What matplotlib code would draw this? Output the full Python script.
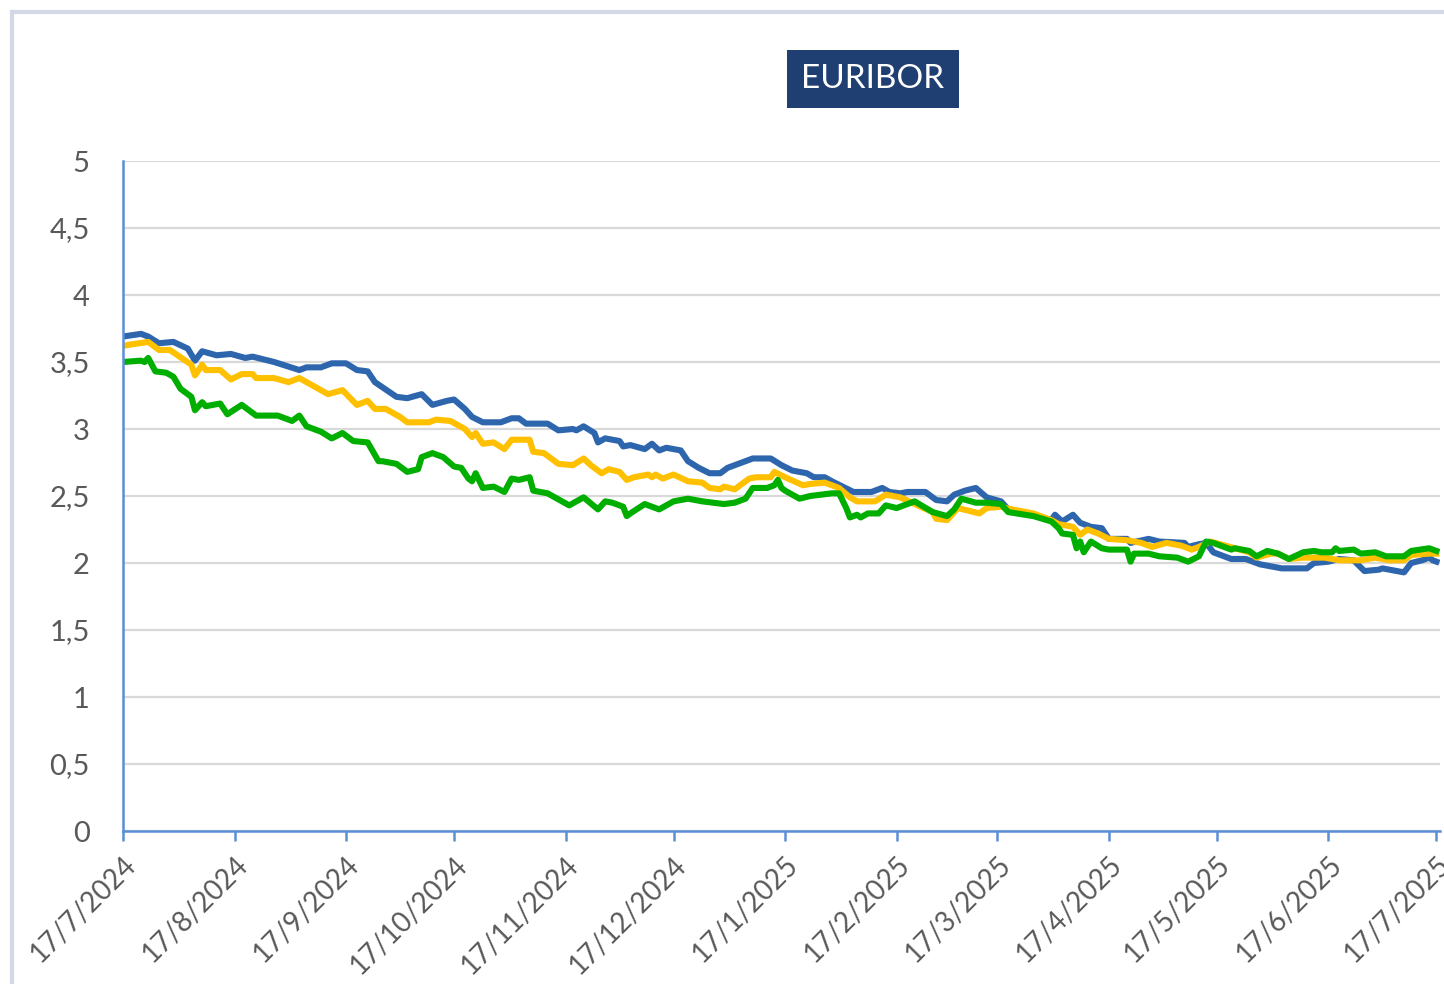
import numpy as np
import pandas as pd
import matplotlib
matplotlib.use("Agg")
from matplotlib import pyplot as plt
import matplotlib.dates as mdates
from matplotlib.lines import Line2D

plt.rcParams['font.family'] = ['Lato', 'DejaVu Sans']

start = pd.Timestamp("2024-07-17")

# dias desde 17/7/2024 y valores
blue_d = [0, 5, 7, 10, 14, 18, 20, 22, 26, 30, 34, 36, 42, 49, 51, 55, 58, 62, 65, 68, 70, 76, 79, 83, 86, 90, 92, 95,
          97, 100, 105, 108, 110, 112, 118, 121, 125, 126, 128, 131, 132, 134, 138, 139, 141, 145, 147, 149, 151, 155,
          157, 160, 163, 166, 168, 170, 173, 175, 180, 183, 186, 190, 192, 195, 197, 203, 208, 211, 213, 216, 218, 223,
          226, 229, 231, 234, 237, 240, 244, 246, 253, 258, 259, 261, 264, 266, 269, 272, 274, 279, 280, 285, 288, 295,
          296, 299, 301, 303, 308, 312, 316, 322, 329, 331, 335, 338, 342, 345, 349, 350, 352, 356, 358, 361, 363, 364, 365]
blue_v = [3.69, 3.71, 3.69, 3.64, 3.65, 3.60, 3.51, 3.58, 3.55, 3.56, 3.53, 3.54, 3.50, 3.44, 3.46, 3.46, 3.49, 3.49,
          3.44, 3.43, 3.35, 3.24, 3.23, 3.26, 3.18, 3.21, 3.22, 3.15, 3.09, 3.05, 3.05, 3.08, 3.08, 3.04, 3.04, 2.99,
          3.00, 2.99, 3.02, 2.97, 2.90, 2.93, 2.91, 2.87, 2.88, 2.85, 2.89, 2.84, 2.86, 2.84, 2.76, 2.71, 2.67, 2.67,
          2.71, 2.73, 2.76, 2.78, 2.78, 2.73, 2.69, 2.67, 2.64, 2.64, 2.61, 2.53, 2.53, 2.56, 2.53, 2.52, 2.53, 2.53,
          2.47, 2.46, 2.51, 2.54, 2.56, 2.49, 2.46, 2.40, 2.36, 2.32, 2.36, 2.31, 2.36, 2.30, 2.27, 2.26, 2.18, 2.18,
          2.15, 2.18, 2.16, 2.15, 2.12, 2.14, 2.15, 2.08, 2.03, 2.03, 1.99, 1.96, 1.96, 2.00, 2.01, 2.03, 2.02, 1.94,
          1.95, 1.96, 1.95, 1.93, 2.00, 2.02, 2.04, 2.02, 2.01]

yellow_d = [0, 2, 7, 10, 13, 19, 20, 22, 23, 27, 30, 33, 36, 37, 42, 46, 49, 53, 57, 61, 65, 68, 70, 73, 77, 79, 85, 87,
            91, 95, 97, 98, 100, 103, 106, 108, 113, 114, 117, 119, 121, 125, 128, 130, 133, 135, 138, 140, 142, 146,
            147, 148, 150, 153, 157, 161, 163, 166, 167, 170, 171, 174, 176, 180, 181, 184, 189, 191, 195, 199, 202,
            204, 209, 212, 216, 220, 225, 226, 229, 232, 238, 240, 244, 247, 253, 258, 260, 264, 266, 268, 271, 274,
            279, 283, 286, 290, 294, 297, 299, 302, 305, 309, 313, 315, 319, 321, 324, 328, 334, 338, 344, 348, 352,
            356, 358, 363, 365]
yellow_v = [3.62, 3.63, 3.65, 3.59, 3.59, 3.48, 3.40, 3.48, 3.44, 3.44, 3.37, 3.41, 3.41, 3.38, 3.38, 3.35, 3.38, 3.32,
            3.26, 3.29, 3.18, 3.21, 3.15, 3.15, 3.09, 3.05, 3.05, 3.07, 3.06, 3.00, 2.94, 2.97, 2.89, 2.90, 2.85, 2.92,
            2.92, 2.83, 2.82, 2.78, 2.74, 2.73, 2.78, 2.73, 2.67, 2.70, 2.68, 2.62, 2.64, 2.66, 2.64, 2.66, 2.63, 2.66,
            2.61, 2.60, 2.56, 2.55, 2.57, 2.55, 2.57, 2.63, 2.64, 2.64, 2.68, 2.64, 2.58, 2.59, 2.60, 2.56, 2.49, 2.46,
            2.46, 2.51, 2.49, 2.44, 2.38, 2.33, 2.32, 2.41, 2.37, 2.41, 2.42, 2.40, 2.37, 2.32, 2.29, 2.27, 2.21, 2.25,
            2.22, 2.18, 2.17, 2.15, 2.12, 2.15, 2.13, 2.10, 2.12, 2.16, 2.14, 2.11, 2.08, 2.04, 2.07, 2.07, 2.03, 2.04,
            2.04, 2.02, 2.02, 2.04, 2.02, 2.02, 2.06, 2.07, 2.07]

green_d = [0, 5, 6, 7, 9, 12, 14, 16, 19, 20, 22, 23, 27, 29, 33, 37, 41, 43, 47, 49, 51, 55, 58, 61, 64, 68, 71, 72, 76,
           79, 82, 83, 86, 89, 92, 94, 96, 97, 98, 100, 103, 106, 108, 110, 113, 114, 118, 120, 124, 128, 132, 134,
           136, 139, 140, 141, 145, 149, 153, 157, 161, 167, 170, 173, 175, 179, 181, 182, 183, 184, 188, 191, 194,
           197, 199, 201, 202, 204, 205, 207, 210, 212, 215, 218, 220, 225, 229, 231, 233, 237, 240, 244, 246, 253,
           258, 260, 261, 264, 265, 266, 267, 269, 272, 274, 279, 280, 281, 285, 288, 293, 296, 299, 301, 303, 308,
           309, 313, 315, 318, 321, 324, 328, 331, 333, 336, 337, 338, 342, 344, 348, 351, 356, 358, 363, 365]
green_v = [3.50, 3.51, 3.50, 3.53, 3.43, 3.42, 3.39, 3.30, 3.24, 3.14, 3.20, 3.17, 3.19, 3.11, 3.18, 3.10, 3.10, 3.10,
           3.06, 3.10, 3.02, 2.98, 2.93, 2.97, 2.91, 2.90, 2.76, 2.76, 2.74, 2.68, 2.70, 2.79, 2.82, 2.79, 2.72, 2.71,
           2.63, 2.61, 2.67, 2.56, 2.57, 2.53, 2.63, 2.62, 2.64, 2.54, 2.52, 2.49, 2.43, 2.49, 2.40, 2.46, 2.45, 2.42,
           2.35, 2.37, 2.44, 2.40, 2.46, 2.48, 2.46, 2.44, 2.45, 2.48, 2.56, 2.56, 2.58, 2.62, 2.56, 2.54, 2.48, 2.50,
           2.51, 2.52, 2.52, 2.41, 2.34, 2.36, 2.34, 2.37, 2.37, 2.43, 2.41, 2.44, 2.46, 2.38, 2.35, 2.40, 2.48, 2.45,
           2.45, 2.44, 2.38, 2.35, 2.31, 2.26, 2.22, 2.21, 2.11, 2.16, 2.08, 2.16, 2.11, 2.10, 2.10, 2.01, 2.07, 2.07,
           2.05, 2.04, 2.01, 2.05, 2.16, 2.15, 2.10, 2.11, 2.09, 2.05, 2.09, 2.07, 2.03, 2.08, 2.09, 2.08, 2.08, 2.11,
           2.09, 2.10, 2.07, 2.08, 2.05, 2.05, 2.09, 2.11, 2.09]

yticks = [0, 0.5, 1, 1.5, 2, 2.5, 3, 3.5, 4, 4.5, 5]
ytick_labels = ["0", "0,5", "1", "1,5", "2", "2,5", "3", "3,5", "4", "4,5", "5"]
month_ticks = pd.date_range("2024-07-01", "2025-07-17", freq="MS") + pd.Timedelta(days=16)
xtick_labels = [f"{d.day}/{d.month}/{d.year}" for d in month_ticks]

def to_dates(days):
    return start + pd.to_timedelta(days, unit="D")

fig = plt.figure(figsize=(14.44, 9.84), dpi=100)
ax = fig.add_axes([123/1444, 1-831/984, (1440-123)/1444, (831-161)/984])

ax.plot(to_dates(blue_d), blue_v, color="#2E66AE", lw=4.4, solid_joinstyle="round")
ax.plot(to_dates(yellow_d), yellow_v, color="#FFC000", lw=4.4, solid_joinstyle="round")
ax.plot(to_dates(green_d), green_v, color="#00AE00", lw=4.4, solid_joinstyle="round")

ax.set_ylim(0, 5)
ax.set_xlim(start, start + pd.Timedelta(days=366))
ax.set_yticks(yticks)
ax.set_yticklabels(ytick_labels)
ax.set_xticks(month_ticks)
ax.set_xticklabels(xtick_labels, rotation=45, ha="right", rotation_mode="anchor")
ax.grid(axis="y", color="#D9D9D9", lw=1.6)
ax.set_axisbelow(True)
for s in ["top", "right"]:
    ax.spines[s].set_visible(False)
for s in ["left", "bottom"]:
    ax.spines[s].set_color("#5B8FD6")
    ax.spines[s].set_linewidth(1.8)
ax.tick_params(axis="y", length=0, pad=24, labelsize=21, labelcolor="#595959")
ax.tick_params(axis="x", length=7, width=1.8, color="#5B8FD6", pad=8, labelsize=20, labelcolor="#595959")

fig.text(873/1444, 1-79/984, "EURIBOR", ha="center", va="center", color="white", fontsize=24,
         bbox=dict(boxstyle="square,pad=0.42", fc="#1F3F73", ec="none"))

# marco
fig.add_artist(Line2D([12/1444, 12/1444], [0, 1-12/984], color="#D3D7E6", lw=3, transform=fig.transFigure))
fig.add_artist(Line2D([12/1444, 1], [1-12/984, 1-12/984], color="#D3D7E6", lw=3, transform=fig.transFigure))

fig.savefig("out.png", dpi=100)
